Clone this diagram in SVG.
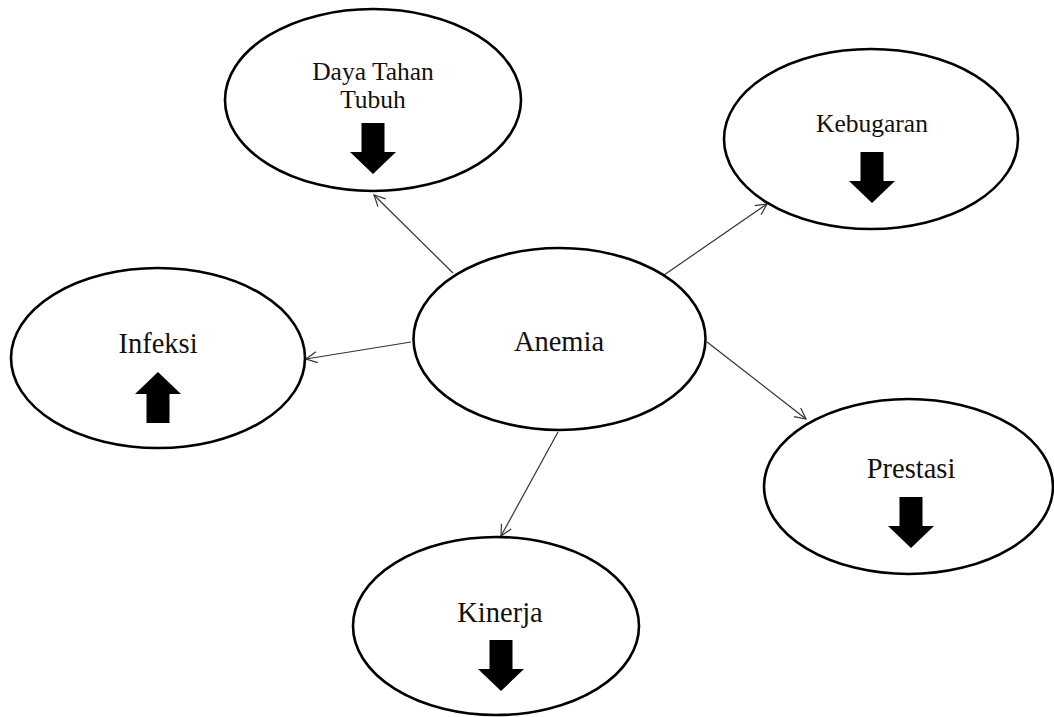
<svg xmlns="http://www.w3.org/2000/svg" xmlns:xlink="http://www.w3.org/1999/xlink" width="1054" height="717" viewBox="0 0 1054 717">
<style>
.node ellipse{fill:#fff;stroke:#000;stroke-width:2.6}
.lbl{font-family:"Liberation Serif","Times New Roman",serif;fill:#111;text-anchor:middle}
.big{font-size:28.5px}
.small{font-size:25.5px}
.conn line{stroke:#333;stroke-width:1.2;fill:none}
.blk{fill:#000}
</style>
<defs>
<marker id="open" markerUnits="userSpaceOnUse" markerWidth="14" markerHeight="14" viewBox="0 0 14 14" refX="12" refY="7" orient="auto">
<path d="M1,1.5 L12,7 L1,12.5" fill="none" stroke="#333" stroke-width="1.2"/>
</marker>
<path id="down" d="M-11.5,-51 L11.5,-51 L11.5,-22 L23,-22 L0,0 L-23,-22 L-11.5,-22 Z"/>
</defs>
<rect width="1054" height="717" fill="#fff"/>
<g id="connectors" class="conn">
<line x1="453" y1="273" x2="374" y2="195" marker-end="url(#open)"/>
<line x1="664" y1="275" x2="767" y2="204" marker-end="url(#open)"/>
<line x1="411" y1="342" x2="306" y2="359" marker-end="url(#open)"/>
<line x1="707" y1="342" x2="806" y2="419" marker-end="url(#open)"/>
<line x1="558" y1="432" x2="501" y2="536" marker-end="url(#open)"/>
</g>
<g id="daya" class="node">
<ellipse cx="373" cy="100" rx="148" ry="91"/>
<text class="lbl small" x="373" y="80">Daya Tahan</text>
<text class="lbl small" x="373" y="108">Tubuh</text>
<use href="#down" xlink:href="#down" class="blk" transform="translate(373,174)"/>
</g>
<g id="kebugaran" class="node">
<ellipse cx="871" cy="139" rx="147" ry="90"/>
<text class="lbl small" x="872" y="132">Kebugaran</text>
<use href="#down" xlink:href="#down" class="blk" transform="translate(872,203)"/>
</g>
<g id="infeksi" class="node">
<ellipse cx="158" cy="358" rx="147" ry="90"/>
<text class="lbl big" x="158" y="353">Infeksi</text>
<use href="#down" xlink:href="#down" class="blk" transform="translate(158,372) rotate(180)"/>
</g>
<g id="anemia" class="node">
<ellipse cx="559.5" cy="339" rx="146" ry="91"/>
<text class="lbl big" x="559" y="351">Anemia</text>
</g>
<g id="prestasi" class="node">
<ellipse cx="908.5" cy="486.5" rx="144.5" ry="87.5"/>
<text class="lbl big" x="911" y="478">Prestasi</text>
<use href="#down" xlink:href="#down" class="blk" transform="translate(911,548)"/>
</g>
<g id="kinerja" class="node">
<ellipse cx="496" cy="626" rx="143" ry="89"/>
<text class="lbl big" x="500" y="622">Kinerja</text>
<use href="#down" xlink:href="#down" class="blk" transform="translate(501,691)"/>
</g>
</svg>
